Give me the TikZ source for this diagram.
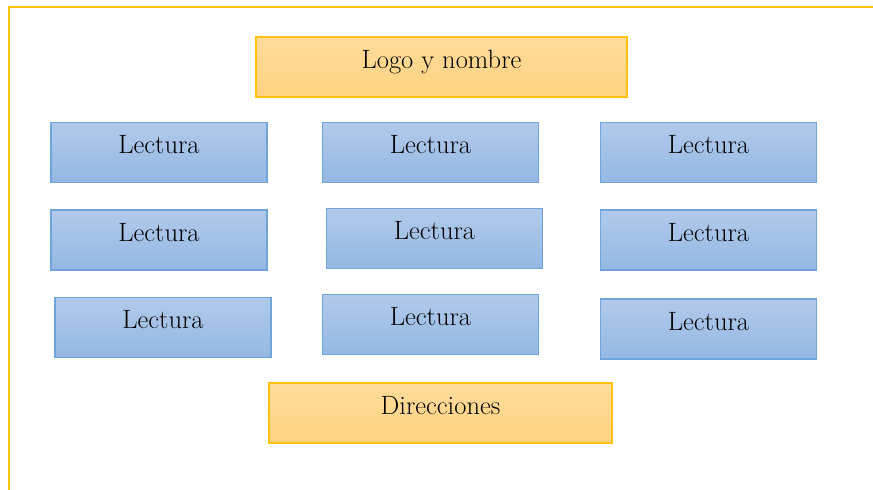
\documentclass[tikz,border=0pt]{standalone}
\definecolor{bluetop}{HTML}{B1CAEA}
\definecolor{bluebot}{HTML}{94B8E3}
\definecolor{blueline}{HTML}{6FA5DC}
\definecolor{orgtop}{HTML}{FFDB9B}
\definecolor{orgbot}{HTML}{FFD27F}
\definecolor{orgline}{HTML}{FFC20E}
\begin{document}
\begin{tikzpicture}[x=1pt,y=-1pt,
  boxbase/.style={rectangle, line width=1.6pt, minimum height=60pt,
    font=\fontsize{26.5}{30}\selectfont, text height=18pt, text depth=16pt, inner sep=0pt},
  bluebox/.style={boxbase, draw=blueline, top color=bluetop, bottom color=bluebot, minimum width=216pt},
  orgbox/.style={boxbase, draw=orgline, top color=orgtop, bottom color=orgbot}]
\useasboundingbox (0,0) rectangle (873,490);
\draw[orgline, line width=2pt] (8.5,491) -- (8.5,6.5) -- (874,6.5);
\node[orgbox, minimum width=371pt] (logo) at (441.5,67) {Logo y nombre};
\node[bluebox] (l11) at (159,152.5) {Lectura};
\node[bluebox] (l12) at (430.5,152.5) {Lectura};
\node[bluebox] (l13) at (708.5,152.5) {Lectura};
\node[bluebox] (l21) at (159,240) {Lectura};
\node[bluebox] (l22) at (434.5,238.5) {Lectura};
\node[bluebox] (l23) at (708.5,240) {Lectura};
\node[bluebox] (l31) at (163,327.5) {Lectura};
\node[bluebox] (l32) at (430.5,324.5) {Lectura};
\node[bluebox] (l33) at (708.5,329) {Lectura};
\node[orgbox, minimum width=343pt] (dir) at (440.5,413) {Direcciones};
\end{tikzpicture}
\end{document}
